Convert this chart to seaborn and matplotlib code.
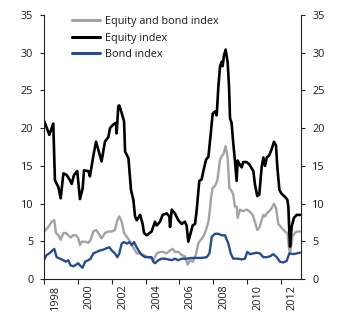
import matplotlib
matplotlib.use("Agg")
import matplotlib.pyplot as plt
import seaborn as sns
import numpy as np

# Volatility series (per cent), time as decimal years
equity_t = [1997.25, 1997.55, 1997.78, 1997.88, 1998.08, 1998.22, 1998.38, 1998.57, 1998.77, 1998.87,
            1999.01, 1999.20, 1999.36, 1999.52, 1999.60, 1999.86, 1999.95, 2000.15, 2000.31, 2000.45,
            2000.64, 2000.84, 2001.04, 2001.14, 2001.34, 2001.49, 2001.53, 2001.63, 2001.69, 2001.83,
            2001.97, 2002.03, 2002.23, 2002.38, 2002.52, 2002.62, 2002.72, 2002.92, 2003.07, 2003.15,
            2003.31, 2003.60, 2003.80, 2003.90, 2004.10, 2004.25, 2004.49, 2004.65, 2004.69, 2004.79,
            2004.98, 2005.18, 2005.38, 2005.57, 2005.67, 2005.77, 2005.91, 2006.03, 2006.17, 2006.27,
            2006.42, 2006.56, 2006.66, 2006.82, 2006.96, 2007.10, 2007.21, 2007.35, 2007.45, 2007.55,
            2007.65, 2007.75, 2007.80, 2007.88, 2007.98, 2008.10, 2008.18, 2008.24, 2008.33, 2008.43,
            2008.53, 2008.63, 2008.69, 2008.83, 2008.93, 2009.02, 2009.22, 2009.38, 2009.62, 2009.71,
            2009.85, 2009.97, 2010.11, 2010.21, 2010.31, 2010.41, 2010.56, 2010.70, 2010.84, 2010.96,
            2011.04, 2011.16, 2011.29, 2011.49, 2011.63, 2011.69, 2011.75, 2011.79, 2011.89, 2012.02,
            2012.18, 2012.38]
equity_v = [20.9, 19.1, 20.6, 13.1, 12.2, 10.7, 14.0, 13.8, 13.1, 12.6,
            13.8, 14.3, 10.6, 12.0, 14.4, 14.3, 13.6, 16.3, 18.2, 17.1,
            15.6, 18.2, 18.8, 20.0, 20.5, 20.7, 19.3, 22.9, 23.0, 22.0,
            20.9, 16.9, 16.0, 11.8, 10.5, 8.3, 7.8, 8.5, 7.3, 6.1,
            5.8, 6.3, 7.6, 7.1, 7.6, 8.5, 8.7, 8.3, 6.9, 9.2,
            8.7, 7.8, 7.3, 7.6, 7.1, 4.95, 6.1, 7.1, 7.3, 9.2,
            13.0, 13.2, 14.3, 15.8, 16.2, 19.3, 21.9, 22.2, 21.7, 25.5,
            28.2, 28.8, 28.2, 29.6, 30.4, 28.7, 25.5, 21.3, 20.7, 18.0,
            15.7, 13.0, 15.7, 15.1, 14.8, 15.5, 15.5, 15.2, 14.3, 12.6,
            11.0, 11.2, 14.8, 16.1, 15.0, 16.1, 16.4, 17.2, 18.2, 17.7,
            14.8, 11.8, 11.3, 10.9, 10.5, 9.6, 6.1, 4.3, 7.0, 8.1,
            8.5, 8.5]

mixed_t = [1997.25, 1997.49, 1997.69, 1997.84, 1997.94, 1998.08, 1998.22, 1998.38, 1998.53, 1998.67,
           1998.81, 1998.97, 1999.13, 1999.26, 1999.36, 1999.46, 1999.66, 1999.86, 1999.99, 2000.15,
           2000.31, 2000.45, 2000.64, 2000.84, 2001.04, 2001.24, 2001.43, 2001.57, 2001.69, 2001.83,
           2001.97, 2002.13, 2002.33, 2002.48, 2002.62, 2002.72, 2002.92, 2003.12, 2003.31, 2003.51,
           2003.71, 2003.90, 2004.10, 2004.30, 2004.49, 2004.69, 2004.85, 2004.98, 2005.18, 2005.38,
           2005.57, 2005.73, 2005.87, 2006.03, 2006.22, 2006.36, 2006.50, 2006.66, 2006.82, 2006.96,
           2007.05, 2007.10, 2007.21, 2007.35, 2007.49, 2007.65, 2007.75, 2007.84, 2007.98, 2008.10,
           2008.20, 2008.33, 2008.43, 2008.53, 2008.63, 2008.69, 2008.83, 2009.02, 2009.22, 2009.38,
           2009.58, 2009.71, 2009.85, 2009.97, 2010.11, 2010.21, 2010.31, 2010.41, 2010.56, 2010.70,
           2010.84, 2010.96, 2011.10, 2011.29, 2011.49, 2011.63, 2011.75, 2011.79, 2011.95, 2012.18,
           2012.38]
mixed_v = [6.3, 6.9, 7.6, 7.8, 6.1, 5.8, 5.2, 6.1, 6.1, 5.8,
           5.5, 5.8, 5.8, 5.4, 4.5, 4.95, 4.95, 4.8, 5.2, 6.3,
           6.5, 6.1, 5.4, 6.1, 6.3, 6.3, 6.5, 7.8, 8.3, 7.6,
           6.1, 5.6, 4.95, 4.3, 3.8, 3.4, 3.4, 3.2, 3.0, 2.8,
           2.5, 3.4, 3.6, 3.6, 3.4, 3.8, 4.0, 3.6, 3.6, 3.2,
           3.0, 1.9, 2.5, 2.3, 3.2, 4.7, 5.2, 5.6, 6.5, 7.6,
           9.2, 10.5, 12.1, 12.3, 13.1, 15.8, 16.3, 16.5, 17.6, 16.0,
           12.1, 11.7, 11.2, 9.6, 9.6, 8.1, 9.2, 9.0, 9.2, 9.0,
           8.5, 7.6, 6.5, 6.8, 7.8, 8.5, 8.3, 8.7, 9.0, 9.4,
           10.0, 9.4, 7.3, 6.8, 6.3, 6.1, 3.8, 3.4, 5.8, 6.3,
           6.3]

bond_t = [1997.25, 1997.39, 1997.55, 1997.74, 1997.84, 1997.98, 1998.18, 1998.38, 1998.53, 1998.67,
          1998.81, 1998.97, 1999.13, 1999.26, 1999.40, 1999.52, 1999.66, 1999.86, 1999.99, 2000.15,
          2000.35, 2000.55, 2000.75, 2000.94, 2001.10, 2001.24, 2001.43, 2001.57, 2001.69, 2001.83,
          2001.97, 2002.13, 2002.28, 2002.42, 2002.56, 2002.72, 2002.88, 2003.01, 2003.21, 2003.41,
          2003.60, 2003.70, 2003.80, 2004.00, 2004.19, 2004.39, 2004.59, 2004.79, 2004.98, 2005.18,
          2005.38, 2005.67, 2005.97, 2006.27, 2006.56, 2006.86, 2007.02, 2007.16, 2007.35, 2007.55,
          2007.75, 2007.94, 2008.14, 2008.28, 2008.43, 2008.73, 2008.93, 2009.12, 2009.26, 2009.42,
          2009.62, 2009.81, 2010.01, 2010.21, 2010.41, 2010.60, 2010.80, 2011.00, 2011.19, 2011.39,
          2011.59, 2011.75, 2011.99, 2012.38]
bond_v = [2.6, 3.2, 3.4, 3.8, 4.0, 2.9, 2.7, 2.5, 2.3, 2.5,
          1.8, 1.7, 1.9, 2.1, 1.7, 1.5, 2.3, 2.5, 2.7, 3.4,
          3.6, 3.8, 3.9, 4.1, 4.2, 3.8, 3.4, 2.9, 3.4, 4.7,
          4.9, 4.7, 4.9, 4.5, 4.9, 4.2, 3.6, 3.2, 2.9, 2.9,
          2.9, 2.3, 2.1, 2.5, 2.7, 2.7, 2.6, 2.5, 2.7, 2.5,
          2.7, 2.7, 2.8, 2.8, 2.8, 2.9, 3.4, 5.6, 6.0, 6.0,
          5.8, 5.8, 4.7, 3.4, 2.7, 2.7, 2.6, 2.7, 3.6, 3.3,
          3.4, 3.5, 3.4, 2.9, 2.9, 3.0, 3.3, 2.9, 2.3, 2.2,
          2.4, 3.4, 3.3, 3.5]

series_names = ["Equity and bond index", "Equity index", "Bond index"]
series_colors = ["#a3a3a3", "#000000", "#284d8e"]

year_labels = [1998, 2000, 2002, 2004, 2006, 2008, 2010, 2012]
y_ticks = [0, 5, 10, 15, 20, 25, 30, 35]

sns.set_style("ticks")
plt.rcParams["font.family"] = ["Open Sans", "DejaVu Sans"]

fig = plt.figure(figsize=(3.46, 3.23), dpi=100)
ax = fig.add_axes([0.128, 0.136, 0.742, 0.818])

for t, v, name, col, lw in zip([mixed_t, equity_t, bond_t],
                               [mixed_v, equity_v, bond_v],
                               series_names, series_colors, [1.7, 1.9, 1.7]):
    sns.lineplot(x=t, y=v, ax=ax, color=col, linewidth=lw, label=name)

x_lo, x_hi = 1997.25, 2012.44
ax.set_xlim(x_lo, x_hi)
ax.set_ylim(0, 35)
ax.set_yticks(y_ticks)
ax.set_yticklabels([str(v) for v in y_ticks])

# boundary ticks every two years, year labels sit between them
ax.set_xticks(np.arange(x_lo, 2011.5, 2.0))
ax.set_xticklabels([])
ax.set_xticks([y - 0.1 for y in year_labels], minor=True)
ax.set_xticklabels([str(y) for y in year_labels], minor=True, rotation=90)
ax.tick_params(axis="x", which="minor", length=0, pad=4.0, labelsize=7.8,
               labelcolor="#1a1a1a")
ax.tick_params(axis="x", which="major", length=3.5, width=0.8, direction="out")
ax.tick_params(axis="y", length=3, width=0.8, pad=5, labelsize=7.8, labelcolor="#1a1a1a")

ax.spines["top"].set_visible(False)
ax.spines["right"].set_visible(False)
for side in ["left", "bottom"]:
    ax.spines[side].set_linewidth(0.8)
    ax.spines[side].set_color("#222222")

ax2 = ax.twinx()
ax2.set_ylim(0, 35)
ax2.set_yticks(y_ticks)
ax2.set_yticklabels([str(v) for v in y_ticks])
ax2.tick_params(axis="y", length=3, width=0.8, pad=5, labelsize=7.8, labelcolor="#1a1a1a")
for side in ["top", "left", "bottom"]:
    ax2.spines[side].set_visible(False)
ax2.spines["right"].set_linewidth(0.8)
ax2.spines["right"].set_color("#222222")

ax.set_xlabel("")
ax.set_ylabel("")
leg = ax.legend(loc="upper left", bbox_to_anchor=(0.108, 0.995), frameon=False,
                fontsize=7.8, handlelength=2.6, handletextpad=0.4,
                labelspacing=0.5, borderpad=0, borderaxespad=0)
for line in leg.get_lines():
    line.set_linewidth(2.2)
for txt in leg.get_texts():
    txt.set_color("#1a1a1a")

fig.savefig("out.png", dpi=100)
